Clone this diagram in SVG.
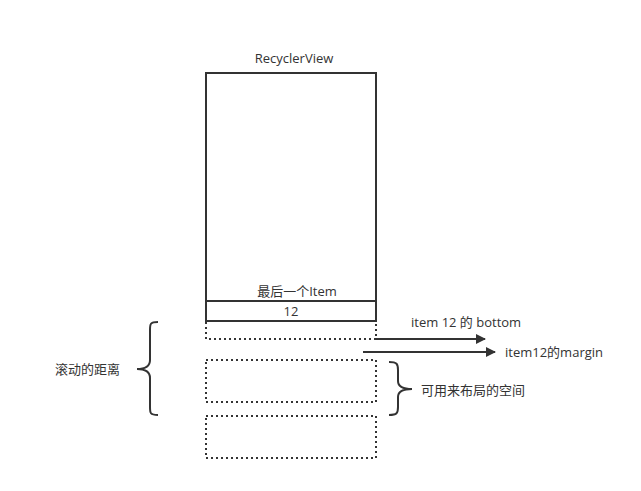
<svg xmlns="http://www.w3.org/2000/svg" width="641" height="491" viewBox="0 0 641 491">
<style>
text{font-family:"Open Sans","Noto Sans CJK SC",sans-serif;font-size:13px;fill:#333}
.s{fill:none;stroke:#333;stroke-width:2}
.d{fill:none;stroke:#333;stroke-width:2;stroke-dasharray:2 3}
</style>
<defs>
<marker id="ah" viewBox="0 0 10 10" refX="9" refY="5" markerWidth="15" markerHeight="10" markerUnits="userSpaceOnUse" orient="auto"><path d="M0,0L10,5L0,10z" fill="#333"/></marker>
</defs>
<rect width="641" height="491" fill="#fff"/>
<g id="recyclerview">
<rect class="s" x="206" y="73" width="170" height="248"/>
<text x="294" y="63" text-anchor="middle">RecyclerView</text>
</g>
<g id="last-item">
<line class="s" x1="206" y1="301" x2="376" y2="301"/>
<text x="297" y="296" text-anchor="middle">最后一个Item</text>
<text x="291" y="316" text-anchor="middle">12</text>
</g>
<g id="margin-box"><path class="d" d="M206,322V339H376V322"/></g>
<g id="box2"><rect class="d" x="206" y="360" width="170" height="42"/></g>
<g id="box3"><rect class="d" x="206" y="416" width="170" height="42"/></g>
<g id="connectors">
<line class="s" x1="376" y1="339" x2="485" y2="339" marker-end="url(#ah)"/>
<line class="s" x1="363" y1="352" x2="495" y2="352" marker-end="url(#ah)"/>
<path class="s" d="M158,322C150,322 150,324 150,330V360C150,366 146,369 137,369C146,369 150,372 150,378V407C150,413 150,415 158,415"/>
<path class="s" d="M389,362C397,362 398,364 398,370V381C398,386 402,389 412,389C402,389 398,392 398,397V407C398,413 397,415 389,415"/>
</g>
<g id="labels">
<text x="411" y="327">item 12 的 bottom</text>
<text x="505" y="357">item12的margin</text>
<text x="421" y="395">可用来布局的空间</text>
<text x="55" y="374">滚动的距离</text>
</g>
</svg>
